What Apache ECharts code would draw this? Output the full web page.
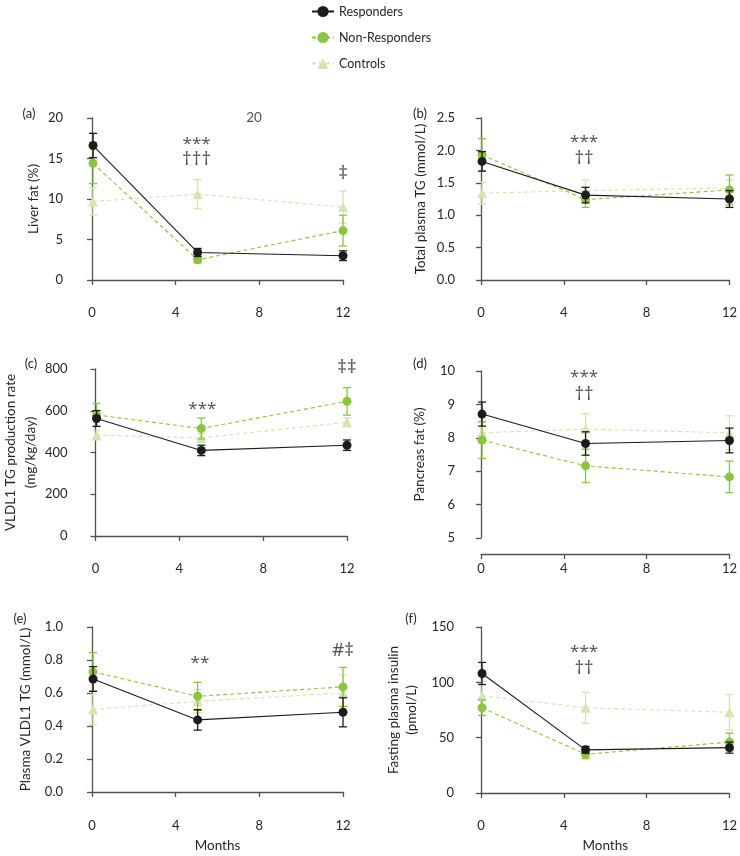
<!DOCTYPE html>
<html>
<head>
<meta charset="utf-8">
<script src="https://cdn.jsdelivr.net/npm/echarts@6/dist/echarts.min.js"></script>
<style>
  html, body { margin: 0; padding: 0; background: #fff; }
  #chart { width: 740px; height: 856px; }
</style>
</head>
<body>
<div id="chart"></div>
<script>
// time points (months), slightly offset from ticks as in the figure
const months = [0.05, 5.05, 12];
const xTicks = [0, 4, 8, 12];

// (a) liver fat (%)
const liverResp = [16.6, 3.4, 3.0];
const liverRespSem = [1.5, 0.5, 0.6];
const liverNon = [14.4, 2.5, 6.1];
const liverNonSem = [2.5, 0.4, 1.9];
const liverCtrl = [9.7, 10.6, 9.0];
const liverCtrlSem = [1.7, 1.8, 2.0];

// (b) total plasma TG (mmol/L)
const tgResp = [1.83, 1.31, 1.25];
const tgRespSem = [0.15, 0.12, 0.13];
const tgNon = [1.93, 1.24, 1.39];
const tgNonSem = [0.25, 0.12, 0.23];
const tgCtrl = [1.34, 1.38, 1.42];
const tgCtrlSem = [0.17, 0.16, 0.12];

// (c) VLDL1 TG production rate (mg/kg/day)
const prodResp = [563, 410, 435];
const prodRespSem = [38, 25, 25];
const prodNon = [580, 515, 645];
const prodNonSem = [55, 50, 66];
const prodCtrl = [483, 470, 545];
const prodCtrlSem = [22, 20, 20];

// (d) pancreas fat (%)
const pancResp = [8.71, 7.83, 7.92];
const pancRespSem = [0.36, 0.35, 0.37];
const pancNon = [7.93, 7.16, 6.83];
const pancNonSem = [0.55, 0.5, 0.47];
const pancCtrl = [8.15, 8.26, 8.15];
const pancCtrlSem = [0.3, 0.46, 0.51];

// (e) plasma VLDL1 TG (mmol/L)
const vldlResp = [0.685, 0.437, 0.483];
const vldlRespSem = [0.075, 0.062, 0.088];
const vldlNon = [0.728, 0.58, 0.637];
const vldlNonSem = [0.117, 0.085, 0.118];
const vldlCtrl = [0.50, 0.55, 0.60];
const vldlCtrlSem = [0.092, 0.07, 0.11];

// (f) fasting plasma insulin (pmol/L)
const insResp = [108, 39, 41];
const insRespSem = [10, 3, 5];
const insNon = [77, 35, 46];
const insNonSem = [7, 4, 8];
const insCtrl = [88, 77, 73];
const insCtrlSem = [13, 14, 16];

// significance marks: [x, y, text] in data units
const marksA = [[5.0, 16.8, '***'], [5.0, 14.9, '†††'], [12, 13.1, '‡'], [7.75, 20.1, '20']];
const marksB = [[4.98, 2.12, '***'], [4.98, 1.88, '††']];
const marksC = [[5.1, 608, '***'], [12, 805, '‡‡']];
const marksD = [[4.98, 9.81, '***'], [4.98, 9.3, '††']];
const marksE = [[5.16, 0.78, '**'], [12, 0.855, '#‡']];
const marksF = [[4.98, 127, '***'], [4.98, 112, '††']];

const groups = {
  Responders: { color: '#1c1c1c', dash: 'solid', symbol: 'circle' },
  'Non-Responders': { color: '#8cc43f', dash: [4, 3], symbol: 'circle' },
  Controls: { color: '#d4e4b3', dash: [4, 3], symbol: 'triangle' }
};

const panels = [
  { label: '(a)', lbl: [29, 114], name: 'Liver fat (%)', min: 0, max: 20, step: 5,
    grid: { left: 92, top: 118, width: 251, height: 162 }, yOff: 20, xOff: 18, gap: 31,
    data: { Responders: [liverResp, liverRespSem], 'Non-Responders': [liverNon, liverNonSem], Controls: [liverCtrl, liverCtrlSem] },
    marks: marksA },
  { label: '(b)', lbl: [420, 114], name: 'Total plasma TG (mmol/L)', min: 0, max: 2.5, step: 0.5, dec: 1,
    grid: { left: 481, top: 118, width: 251, height: 162 }, yOff: 17, xOff: 18, gap: 36,
    data: { Responders: [tgResp, tgRespSem], 'Non-Responders': [tgNon, tgNonSem], Controls: [tgCtrl, tgCtrlSem] },
    marks: marksB },
  { label: '(c)', lbl: [31, 364], name: 'VLDL1 TG production rate\n(mg/kg/day)', min: 0, max: 800, step: 200, lh: 20,
    grid: { left: 92, top: 369, width: 255, height: 167 }, yOff: 19, xOff: 18, gap: 34,
    data: { Responders: [prodResp, prodRespSem], 'Non-Responders': [prodNon, prodNonSem], Controls: [prodCtrl, prodCtrlSem] },
    marks: marksC },
  { label: '(d)', lbl: [420, 364], name: 'Pancreas fat (%)', min: 5, max: 10, step: 1,
    grid: { left: 481, top: 371, width: 251, height: 167 }, yOff: 17, xOff: 16, gap: 37,
    data: { Responders: [pancResp, pancRespSem], 'Non-Responders': [pancNon, pancNonSem], Controls: [pancCtrl, pancCtrlSem] },
    marks: marksD },
  { label: '(e)', lbl: [20, 619], name: 'Plasma VLDL1 TG (mmol/L)', min: 0, max: 1, step: 0.2, dec: 1,
    grid: { left: 92, top: 627, width: 251, height: 165 }, yOff: 20, xOff: 19, gap: 39, months: true,
    data: { Responders: [vldlResp, vldlRespSem], 'Non-Responders': [vldlNon, vldlNonSem], Controls: [vldlCtrl, vldlCtrlSem] },
    marks: marksE },
  { label: '(f)', lbl: [411, 619], name: 'Fasting plasma insulin\n(pmol/L)', min: 0, max: 150, step: 50, lh: 18,
    grid: { left: 481, top: 627, width: 251, height: 166 }, yOff: 18, xOff: 18, gap: 42, months: true,
    data: { Responders: [insResp, insRespSem], 'Non-Responders': [insNon, insNonSem], Controls: [insCtrl, insCtrlSem] },
    marks: marksF }
];

const font = 'Lato, "Open Sans", sans-serif';
const markFont = '"Open Sans", sans-serif';
const axisColor = '#505050';
const textColor = '#262626';

function errRender(color) {
  return function (params, api) {
    const x = api.value(0);
    const lo = api.coord([x, api.value(1)]);
    const hi = api.coord([x, api.value(2)]);
    const w = 4;
    const style = { stroke: color, lineWidth: 1.3 };
    return {
      type: 'group',
      children: [
        { type: 'line', shape: { x1: lo[0], y1: lo[1], x2: hi[0], y2: hi[1] }, style: style },
        { type: 'line', shape: { x1: lo[0] - w, y1: lo[1], x2: lo[0] + w, y2: lo[1] }, style: style },
        { type: 'line', shape: { x1: hi[0] - w, y1: hi[1], x2: hi[0] + w, y2: hi[1] }, style: style }
      ]
    };
  };
}

const grid = [], xAxis = [], yAxis = [], series = [], graphic = [];

panels.forEach((p, i) => {
  grid.push(p.grid);
  xAxis.push({
    type: 'value', gridIndex: i, min: 0, max: 12, interval: 4, offset: p.xOff,
    axisLine: { show: true, lineStyle: { color: axisColor, width: 1.3 } },
    axisTick: { show: true, length: 5, lineStyle: { color: axisColor, width: 1.3 } },
    axisLabel: { color: textColor, fontSize: 13, fontFamily: font, margin: 8,
      customValues: xTicks },
    splitLine: { show: false },
    name: p.months ? 'Months' : '', nameLocation: 'middle', nameGap: 28,
    nameTextStyle: { color: textColor, fontSize: 13.5, fontFamily: font }
  });
  yAxis.push({
    type: 'value', gridIndex: i, min: p.min, max: p.max, interval: p.step, offset: p.yOff,
    axisLine: { show: true, lineStyle: { color: axisColor, width: 1.3 } },
    axisTick: { show: true, length: 5, lineStyle: { color: axisColor, width: 1.3 } },
    axisLabel: { color: textColor, fontSize: 13, fontFamily: font, margin: 9,
      formatter: v => p.dec ? v.toFixed(p.dec) : String(v) },
    splitLine: { show: false },
    name: p.name, nameLocation: 'middle', nameGap: p.gap,
    nameTextStyle: { color: textColor, fontSize: 13.5, fontFamily: font, lineHeight: p.lh || 15 }
  });

  ['Controls', 'Non-Responders', 'Responders'].forEach((g, k) => {
    const st = groups[g];
    const vals = p.data[g][0], sem = p.data[g][1];
    series.push({
      type: 'custom', name: g + ' SEM', xAxisIndex: i, yAxisIndex: i, z: 2 + k * 2,
      renderItem: errRender(st.color), silent: true, clip: false,
      data: months.map((m, j) => [m, vals[j] - sem[j], vals[j] + sem[j]])
    });
    series.push({
      type: 'line', name: g, xAxisIndex: i, yAxisIndex: i, z: 3 + k * 2,
      symbol: st.symbol, symbolSize: st.symbol === 'triangle' ? 10 : 9,
      showAllSymbol: true, clip: false, silent: true,
      lineStyle: { color: st.color, width: 1.1, type: st.dash },
      itemStyle: { color: st.color },
      data: months.map((m, j) => [m, vals[j]])
    });
  });

  series.push({
    type: 'scatter', name: 'marks', xAxisIndex: i, yAxisIndex: i, z: 20,
    symbolSize: 0, silent: true, clip: false,
    label: { show: true, position: 'inside', formatter: q => q.value[2],
      color: '#222', fontSize: 17, fontFamily: markFont },
    data: p.marks.map(m => {
      if (/\d/.test(m[2])) return { value: m, label: { fontSize: 13.5, fontFamily: font } };
      if (/[†‡#]/.test(m[2])) return { value: m, label: { fontSize: 19 } };
      return { value: m };
    })
  });

  graphic.push({
    type: 'text', x: p.lbl[0], y: p.lbl[1],
    style: { text: p.label, fill: textColor, font: '13px ' + font, align: 'center', verticalAlign: 'middle' }
  });
});

const chart = echarts.init(document.getElementById('chart'), null, { renderer: 'canvas' });
chart.setOption({
  animation: false,
  backgroundColor: '#fff',
  legend: {
    data: ['Responders', 'Non-Responders', 'Controls'],
    orient: 'vertical', left: 306, top: 0,
    itemWidth: 22, itemHeight: 14, itemGap: 13,
    textStyle: { color: textColor, fontSize: 12.5, fontFamily: font },
    selectedMode: false
  },
  grid: grid,
  xAxis: xAxis,
  yAxis: yAxis,
  series: series,
  graphic: graphic
});
</script>
</body>
</html>
